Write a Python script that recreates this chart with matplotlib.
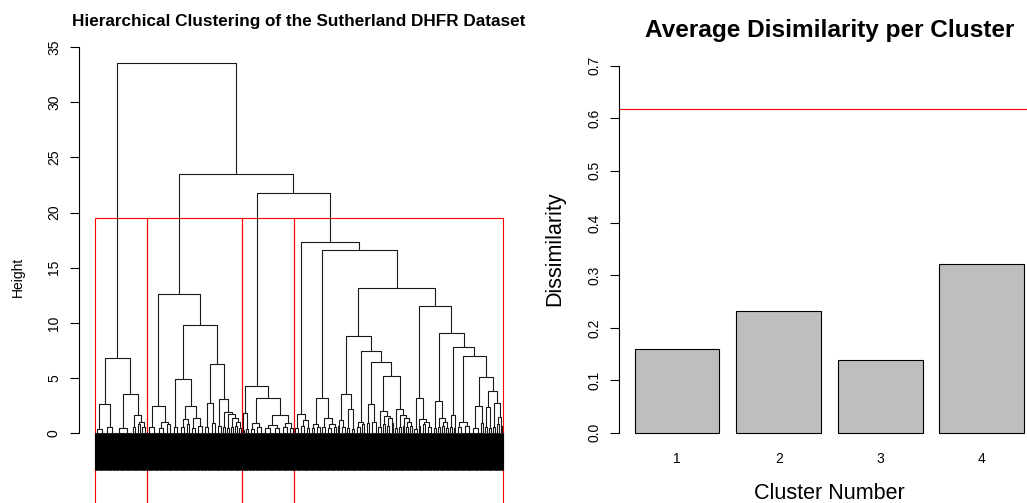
import numpy as np
import matplotlib
matplotlib.use("Agg")
import matplotlib.pyplot as plt
from matplotlib.collections import LineCollection
from matplotlib.patches import Rectangle

plt.rcParams['font.family'] = ['Liberation Sans', 'DejaVu Sans']

# dendrogram data: merge = [height, left, right], leaf group = (n_leaves, height)
cluster1 = [6.86,
            [2.69, (17, 0.35), (20, 0.55)],
            [3.6, (31, 0.5), [1.63, (9, 0.6), [1.03, (8, 0.8), (11, 0.6)]]]]

cluster2 = [12.66,
            [2.45, (19, 0.6), [1.03, (15, 0.5), (12, 0.8)]],
            [9.82,
             [4.95, (14, 0.6),
              [2.48, [1.3, (13, 0.6), (8, 0.8)], [1.4, (10, 0.5), (14, 0.7)]]],
             [6.29, [2.78, (12, 0.6), (12, 0.9)],
              [3.11, (11, 0.7),
               [1.93, (7, 0.6),
                [1.75, (8, 0.5), [1.39, (7, 0.6), [1.0, (7, 0.7), (7, 0.5)]]]]]]]]

cluster3 = [4.32,
            [1.87, (6, 0.3), (8, 0.4)],
            [3.23, [0.94, (11, 0.4), (14, 0.6)],
             [1.63, [0.73, (18, 0.5), (17, 0.5)], [0.97, (13, 0.6), (10, 0.5)]]]]

c4_a = [1.78, (11, 0.5), [1.18, (10, 0.7), (9, 0.5)]]
c4_b1 = [3.23, [0.88, (10, 0.5), (10, 0.6)],
         [1.42, (10, 0.6), [0.8, (11, 0.5), (8, 0.6)]]]
c4_c1 = [3.6, [1.18, (7, 0.7), (10, 0.6)], [2.24, (9, 0.5), (9, 0.4)]]
c4_c5 = [2.02, (9, 0.6), [1.6, (7, 0.8), [1.4, (9, 0.7), (7, 0.9)]]]
c4_c6 = [2.2, (6, 0.5), [1.62, (8, 0.6), [1.4, (6, 0.7), [1.03, (6, 0.6), (9, 0.7)]]]]
c4_c3 = [6.44, [2.66, (10, 0.9), (12, 1.0)], [5.2, c4_c5, c4_c6]]
c4_c = [8.85, c4_c1, [7.5, [1.03, (10, 0.6), (8, 0.8)], c4_c3]]
c4_d1 = [3.23, (8, 0.4), [1.3, (7, 0.7), [1.0, (9, 0.8), (11, 0.6)]]]
c4_d3 = [2.93, (10, 0.5), [1.42, (6, 0.6), [1.0, (7, 0.7), (8, 0.5)]]]
c4_d7 = [3.8, [2.39, (7, 0.6), (6, 0.5)], [2.78, (8, 0.6), [1.48, (8, 0.8), (5, 0.7)]]]
c4_d4 = [7.83, [1.63, (7, 0.6), (7, 0.5)],
         [7.0, [1.03, (11, 0.6), (16, 0.7)],
          [5.1, [2.48, (16, 0.5), (9, 0.9)], c4_d7]]]
c4_d = [11.51, c4_d1, [9.13, c4_d3, c4_d4]]
cluster4 = [17.29, c4_a, [16.6, c4_b1, [13.15, c4_c, c4_d]]]

top_heights = [33.52, 23.54, 21.79]
tree = [top_heights[0], cluster1,
        [top_heights[1], cluster2, [top_heights[2], cluster3, cluster4]]]
n_clusters = 4

# barplot data
cluster_names = ["1", "2", "3", "4"]
avg_dissim = [0.160, 0.233, 0.139, 0.321]
overall_dissim = 0.618

HANG = 3.35
LEAF_BASE = 0.05

segs = []
leaf_segs = []
heights = []


def count(node):
    if isinstance(node, tuple):
        return node[0]
    return count(node[1]) + count(node[2])


def comb(first, n, h):
    xs = np.arange(first, first + n)
    for x in xs:
        leaf_segs.append([(x, h), (x, h - HANG)])
    if n > 1:
        segs.append([(xs[0], h), (xs[-1], h)])
    return (xs[0] + xs[-1]) / 2


def draw(node, first):
    if isinstance(node, tuple):
        n, h = node
        if n < 4:
            return comb(first, n, h), h
        n1 = n // 2
        xl = comb(first, n1, LEAF_BASE)
        xr = comb(first + n1, n - n1, LEAF_BASE)
        segs.append([(xl, LEAF_BASE), (xl, h), (xr, h), (xr, LEAF_BASE)])
        return (xl + xr) / 2, h
    h, left, right = node
    heights.append(h)
    xl, hl = draw(left, first)
    xr, hr = draw(right, first + count(left))
    segs.append([(xl, hl), (xl, h), (xr, h), (xr, hr)])
    return (xl + xr) / 2, h


W, H = 1027, 503


def box(l, t, r, b):
    return [l / W, 1 - b / H, (r - l) / W, (b - t) / H]


fig = plt.figure(figsize=(W / 100, H / 100), dpi=100)

# ---- left: dendrogram
ax1 = fig.add_axes(box(79, 36, 519, 510))
N = count(tree)
draw(tree, 1)
ax1.add_collection(LineCollection(leaf_segs, colors='black', linewidths=0.8))
ax1.add_collection(LineCollection(segs, colors='#1a1a1a', linewidths=0.8))
ax1.set_xlim(1 - 0.04 * (N - 1), N + 0.04 * (N - 1))
ax1.set_ylim(-6.95, 36.0)

cut = np.mean(sorted(heights, reverse=True)[n_clusters - 2:n_clusters])
sizes = [count(c) for c in (cluster1, cluster2, cluster3, cluster4)]
m = np.concatenate([[0], np.cumsum(sizes)])
for i in range(n_clusters):
    x0 = m[i] + 0.66
    x1 = m[i + 1] + 0.33
    ax1.add_patch(Rectangle((x0, -10), x1 - x0, cut + 10, fill=False,
                            edgecolor='red', linewidth=0.8))

for s in ['top', 'right', 'bottom']:
    ax1.spines[s].set_visible(False)
ax1.spines['left'].set_bounds(0, 35)
ax1.spines['left'].set_linewidth(0.8)
ax1.set_xticks([])
ax1.set_yticks(np.arange(0, 36, 5))
ax1.set_yticklabels([str(v) for v in range(0, 36, 5)], rotation=90, va='center')
ax1.tick_params(axis='y', length=6.8, width=0.8, labelsize=10, pad=6.2)
fig.text(299 / W, 1 - 26 / H, "Hierarchical Clustering of the Sutherland DHFR Dataset",
         ha='center', va='baseline', fontsize=12.3, fontweight='bold')
fig.text(17.7 / W, 1 - 276.7 / H, "Height", rotation=90, ha='center', va='center',
         fontsize=10)

# ---- right: barplot
ax2 = fig.add_axes(box(619.3, 51, 1039.6, 447.4))
pos = 0.7 + 1.2 * np.arange(len(avg_dissim))
ax2.bar(pos, avg_dissim, width=1.0, color='#BEBEBE', edgecolor='black', linewidth=0.8)
ax2.axhline(overall_dissim, color='red', linewidth=0.8)
ax2.set_xlim(0.016, 4.984)
ax2.set_ylim(-0.028, 0.728)
for s in ['top', 'right', 'bottom']:
    ax2.spines[s].set_visible(False)
ax2.spines['left'].set_bounds(0, 0.7)
ax2.spines['left'].set_linewidth(0.8)
yt = np.round(np.arange(0, 0.71, 0.1), 1)
ax2.set_yticks(yt)
ax2.set_yticklabels(["%.1f" % v for v in yt], rotation=90, va='center')
ax2.set_xticks(pos)
ax2.set_xticklabels(cluster_names)
ax2.tick_params(axis='y', length=6.8, width=0.8, labelsize=10, pad=6.2)
ax2.tick_params(axis='x', length=0, labelsize=10, pad=3.5)
fig.text(829.5 / W, 1 - 37.3 / H, "Average Disimilarity per Cluster",
         ha='center', va='baseline', fontsize=17.6, fontweight='bold')
fig.text(829.5 / W, 1 - 499 / H, "Cluster Number", ha='center', va='baseline',
         fontsize=15.5)
fig.text(555 / W, 1 - 249 / H, "Dissimilarity", rotation=90, ha='center', va='center',
         fontsize=15.5)

fig.savefig("out.png", dpi=100)
